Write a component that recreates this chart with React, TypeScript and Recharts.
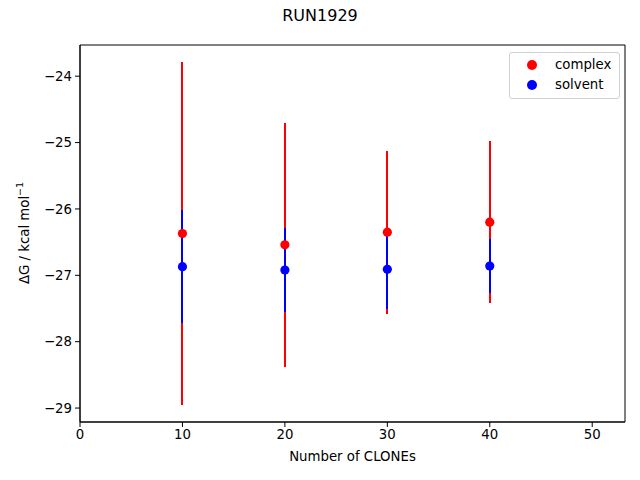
import React from 'react';
import { ScatterChart, Scatter, XAxis, YAxis, ErrorBar, ReferenceArea } from 'recharts';

const clones = [10, 20, 30, 40];
const complexDG = [-26.37, -26.54, -26.35, -26.2];
const complexErr = [2.58, 1.84, 1.23, 1.22];
const solventDG = [-26.87, -26.92, -26.91, -26.86];
const solventErr = [0.85, 0.64, 0.59, 0.41];
const xTicks = [0, 10, 20, 30, 40, 50];
const yTicks = [-29, -28, -27, -26, -25, -24];

const X_DOMAIN: [number, number] = [0, 53.2];
const Y_DOMAIN: [number, number] = [-29.21, -23.53];
const FONT = '"DejaVu Sans", sans-serif';

const complexData = clones.map((x, i) => ({ x, y: complexDG[i], err: complexErr[i] }));
const solventData = clones.map((x, i) => ({ x, y: solventDG[i], err: solventErr[i] }));

const fmt = (v: number) => String(v).replace('-', '\u2212');

const dot = (color: string) => (p: any) => <circle cx={p.cx} cy={p.cy} r={4.6} fill={color} />;

const LegendBox = () => (
  <div style={{ position: 'absolute', top: 52, left: 509, width: 111, boxSizing: 'border-box', border: '1px solid #d0d0d0', borderRadius: 3, background: 'rgba(255,255,255,.8)', padding: '2px 0 3px 17px', fontFamily: FONT, fontSize: 13.3, lineHeight: '20px' }}>
    {[['complex', 'red'], ['solvent', 'blue']].map(([name, c]) => (
      <div key={name} style={{ display: 'flex', alignItems: 'center' }}>
        <span style={{ width: 10, height: 10, borderRadius: 5, background: c, display: 'inline-block', marginRight: 18 }} />
        <span>{name}</span>
      </div>
    ))}
  </div>
);

const YLabel = () => (
  <text transform="translate(29,233) rotate(-90)" textAnchor="middle" fontFamily={FONT} fontSize={13.3} fill="#000">
    ΔG / kcal mol<tspan dy={-6} fontSize={9.5}>−1</tspan>
  </text>
);

export default function App() {
  return (
    <div style={{ position: 'relative', width: 640, height: 480, margin: -8, background: '#fff' }}>
      <div style={{ position: 'absolute', top: 6, left: 0, width: 640, textAlign: 'center', fontFamily: FONT, fontSize: 16 }}>RUN1929</div>
      <ScatterChart width={640} height={480} margin={{ top: 45, right: 15, bottom: 0, left: 0 }}>
        <XAxis
          type="number"
          dataKey="x"
          domain={X_DOMAIN}
          ticks={xTicks}
          allowDataOverflow
          height={58}
          tickSize={5}
          tickMargin={3}
          axisLine={{ stroke: '#000' }}
          tickLine={{ stroke: '#000' }}
          tick={{ fill: '#000', fontSize: 13.3, fontFamily: FONT }}
          label={{ value: 'Number of CLONEs', position: 'insideBottom', offset: 19, fill: '#000', fontSize: 13.3, fontFamily: FONT }}
        />
        <YAxis
          type="number"
          dataKey="y"
          domain={Y_DOMAIN}
          ticks={yTicks}
          allowDataOverflow
          width={80}
          tickSize={5}
          tickMargin={3}
          tickFormatter={fmt}
          axisLine={{ stroke: '#000' }}
          tickLine={{ stroke: '#000' }}
          tick={{ fill: '#000', fontSize: 13.3, fontFamily: FONT }}
          label={<YLabel />}
        />
        <ReferenceArea x1={X_DOMAIN[0]} x2={X_DOMAIN[1]} y1={Y_DOMAIN[0]} y2={Y_DOMAIN[1]} fill="none" stroke="#000" strokeWidth={1} fillOpacity={0} />
        <Scatter name="complex" data={complexData} fill="red" shape={dot('red')} isAnimationActive={false}>
          <ErrorBar dataKey="err" direction="y" width={0} stroke="red" strokeWidth={2} shapeRendering="crispEdges" />
        </Scatter>
        <Scatter name="solvent" data={solventData} fill="blue" shape={dot('blue')} isAnimationActive={false}>
          <ErrorBar dataKey="err" direction="y" width={0} stroke="blue" strokeWidth={2} shapeRendering="crispEdges" />
        </Scatter>
      </ScatterChart>
      <LegendBox />
    </div>
  );
}
